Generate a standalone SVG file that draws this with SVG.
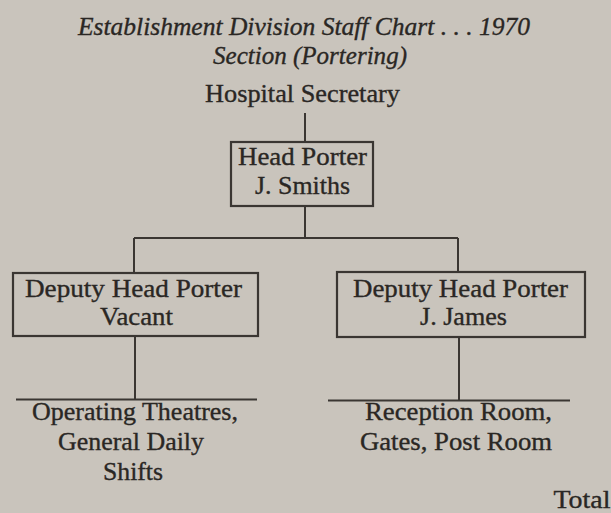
<svg xmlns="http://www.w3.org/2000/svg" width="611" height="513" viewBox="0 0 611 513">
<style>
text{font-family:"Liberation Serif","Times New Roman",serif;font-size:25.5px;fill:#2a2724;stroke:#2a2724;stroke-width:0.35;text-anchor:middle}
.it{font-style:italic}
.box{fill:none;stroke:#3a3632;stroke-width:2.2}
.ln{stroke:#3a3632;stroke-width:2;fill:none}
</style>
<rect x="0" y="0" width="611" height="513" fill="#c9c4bc"/>
<g id="title">
<text class="it" x="304" y="35" textLength="452" lengthAdjust="spacingAndGlyphs">Establishment Division Staff Chart . . . 1970</text>
<text class="it" x="310" y="64" textLength="194" lengthAdjust="spacingAndGlyphs">Section (Portering)</text>
</g>
<g id="connectors">
<path class="ln" d="M305 113V142"/>
<path class="ln" d="M305 206V238"/>
<path class="ln" d="M134 238H458"/>
<path class="ln" d="M134 238V273"/>
<path class="ln" d="M458 238V272"/>
<path class="ln" d="M135 336V399"/>
<path class="ln" d="M459 337V400"/>
<path class="ln" d="M16 399.5H257"/>
<path class="ln" d="M328 400.5H570"/>
</g>
<g id="hospital-secretary">
<text x="302.5" y="102" textLength="195" lengthAdjust="spacingAndGlyphs">Hospital Secretary</text>
</g>
<g id="head-porter">
<rect class="box" x="231" y="142" width="142" height="64"/>
<text x="302.5" y="165" textLength="129" lengthAdjust="spacingAndGlyphs">Head Porter</text>
<text x="302.5" y="194" textLength="95" lengthAdjust="spacingAndGlyphs">J. Smiths</text>
</g>
<g id="deputy-left">
<rect class="box" x="13" y="273" width="245" height="63"/>
<text x="133.5" y="297" textLength="217" lengthAdjust="spacingAndGlyphs">Deputy Head Porter</text>
<text x="136.5" y="325" textLength="73" lengthAdjust="spacingAndGlyphs">Vacant</text>
</g>
<g id="deputy-right">
<rect class="box" x="337" y="272" width="248" height="65"/>
<text x="460.5" y="297" textLength="215" lengthAdjust="spacingAndGlyphs">Deputy Head Porter</text>
<text x="463.5" y="325" textLength="87" lengthAdjust="spacingAndGlyphs">J. James</text>
</g>
<g id="duties-left">
<text x="135" y="420" textLength="206" lengthAdjust="spacingAndGlyphs">Operating Theatres,</text>
<text x="131" y="450" textLength="146" lengthAdjust="spacingAndGlyphs">General Daily</text>
<text x="133" y="480" textLength="60" lengthAdjust="spacingAndGlyphs">Shifts</text>
</g>
<g id="duties-right">
<text x="458.5" y="420" textLength="187" lengthAdjust="spacingAndGlyphs">Reception Room,</text>
<text x="456" y="450" textLength="192" lengthAdjust="spacingAndGlyphs">Gates, Post Room</text>
</g>
<g id="total">
<text x="582" y="508" textLength="57" lengthAdjust="spacingAndGlyphs">Total</text>
</g>
</svg>
